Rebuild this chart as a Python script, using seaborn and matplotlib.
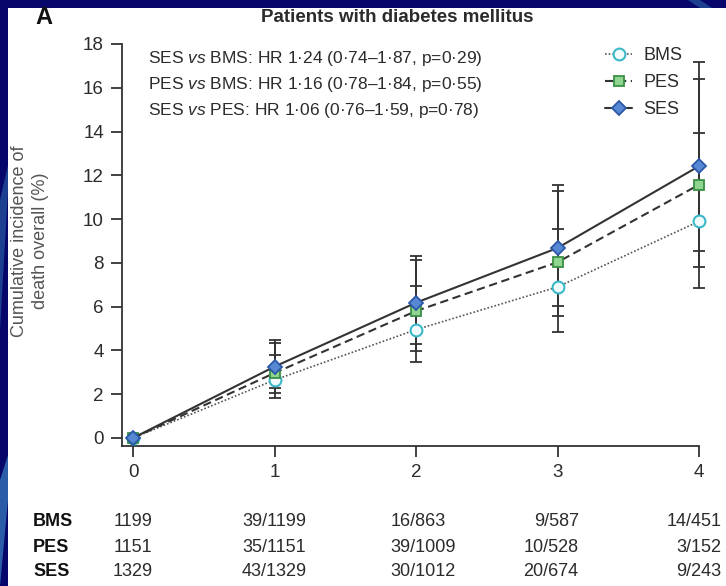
import matplotlib
matplotlib.use("Agg")
import matplotlib.pyplot as plt
from matplotlib import font_manager
from matplotlib.patches import Rectangle, Polygon
import seaborn as sns
import pandas as pd

# ---------------- data ----------------
years = [0, 1, 2, 3, 4]
groups = ["BMS", "PES", "SES"]
bms_vals = [0, 2.65, 4.95, 6.9, 9.9]
pes_vals = [0, 2.97, 5.8, 8.03, 11.57]
ses_vals = [0, 3.26, 6.18, 8.68, 12.42]
bms_lo = [0, 1.81, 3.46, 4.83, 6.83]
bms_hi = [0, 3.79, 6.96, 9.54, 13.94]
pes_lo = [0, 2.04, 3.99, 5.57, 7.82]
pes_hi = [0, 4.35, 8.13, 11.28, 16.4]
ses_lo = [0, 2.27, 4.28, 6.03, 8.54]
ses_hi = [0, 4.47, 8.31, 11.58, 17.17]
yticks = [0, 2, 4, 6, 8, 10, 12, 14, 16, 18]
hr_lines = [
    r"SES $\mathit{vs}$ BMS: HR 1·24 (0·74–1·87, p=0·29)",
    r"PES $\mathit{vs}$ BMS: HR 1·16 (0·78–1·84, p=0·55)",
    r"SES $\mathit{vs}$ PES: HR 1·06 (0·76–1·59, p=0·78)",
]
table_bms = ["1199", "39/1199", "16/863", "9/587", "14/451"]
table_pes = ["1151", "35/1151", "39/1009", "10/528", "3/152"]
table_ses = ["1329", "43/1329", "30/1012", "20/674", "9/243"]
title = "Patients with diabetes mellitus"
panel = "A"
ylabel = "Cumulative incidence of\ndeath overall (%)"

# ---------------- style ----------------
sns.set_style("white")
names = {f.name for f in font_manager.fontManager.ttflist}
FONT = "Liberation Sans Narrow" if "Liberation Sans Narrow" in names else "Liberation Sans"
plt.rcParams["font.family"] = [FONT, "DejaVu Sans"]
plt.rcParams["mathtext.fontset"] = "custom"
plt.rcParams["mathtext.rm"] = FONT
plt.rcParams["mathtext.it"] = FONT + ":italic"
FS = 13
TXT = "#2b2b2b"

W, H = 726, 586
fig = plt.figure(figsize=(W / 100, H / 100), dpi=100)
fig.patch.set_facecolor("#07076b")

def fx(px):
    return px / W

def fy(py):
    return 1 - py / H

# white panel + slide decoration (behind everything)
fig.patches.append(Rectangle((fx(8), 0), 1 - fx(8), fy(8), transform=fig.transFigure,
                             facecolor="white", edgecolor="none", zorder=-10))
fig.patches.append(Polygon([(fx(0), fy(480)), (fx(8), fy(455)), (fx(8), fy(500)), (fx(0), fy(586))],
                           closed=True, transform=fig.transFigure, facecolor="#2b5ca8",
                           edgecolor="none", zorder=-10))
fig.patches.append(Polygon([(fx(0), fy(200)), (fx(8), fy(165)), (fx(8), fy(190)), (fx(0), fy(330))],
                           closed=True, transform=fig.transFigure, facecolor="#1d3f90",
                           edgecolor="none", zorder=-10))
fig.patches.append(Polygon([(fx(688), fy(0)), (fx(700), fy(0)), (fx(712), fy(8)), (fx(700), fy(8))],
                           closed=True, transform=fig.transFigure, facecolor="#1d3f90",
                           edgecolor="none", zorder=-10))

ax = fig.add_axes([fx(122), 1 - 446 / H, 577 / W, 402 / H])
ax.set_facecolor("none")

df = pd.DataFrame({
    "year": years * 3,
    "inc": bms_vals + pes_vals + ses_vals,
    "stent": [g for g in groups for _ in years],
})

lo = {"BMS": bms_lo, "PES": pes_lo, "SES": ses_lo}
hi = {"BMS": bms_hi, "PES": pes_hi, "SES": ses_hi}
vals = {"BMS": bms_vals, "PES": pes_vals, "SES": ses_vals}

# error bars
for g in groups:
    v = vals[g][1:]
    yerr = [[a - b for a, b in zip(v, lo[g][1:])], [b - a for a, b in zip(v, hi[g][1:])]]
    ax.errorbar(years[1:], v, yerr=yerr, fmt="none", ecolor="#333333", elinewidth=1.3,
                capsize=4, capthick=1.3, zorder=2, clip_on=False)

styles = {
    "BMS": dict(linestyle=(0, (1, 1.2)), linewidth=1.2, color="#555555", marker="o",
                markersize=8.5, markerfacecolor="#f2fbfc", markeredgecolor="#3bb8c8",
                markeredgewidth=1.5),
    "PES": dict(linestyle=(0, (4, 2.2)), linewidth=1.5, color="#333333", marker="s",
                markersize=7.5, markerfacecolor="#8fd48f", markeredgecolor="#3a8f45",
                markeredgewidth=1.3),
    "SES": dict(linestyle="-", linewidth=1.5, color="#333333", marker="D",
                markersize=7.5, markerfacecolor="#5688d4", markeredgecolor="#2b58a6",
                markeredgewidth=1.3),
}
for g in groups:
    sns.lineplot(data=df[df["stent"] == g], x="year", y="inc", ax=ax, label=g,
                 zorder=3, clip_on=False, **styles[g])

ax.set_xlim(-0.078, 4)
ax.set_ylim(-0.366, 18)
ax.set_xticks(years)
ax.set_yticks(yticks)
ax.set_xlabel("")
ax.set_ylabel("")
for s in ["top", "right"]:
    ax.spines[s].set_visible(False)
for s in ["left", "bottom"]:
    ax.spines[s].set_color("#333333")
    ax.spines[s].set_linewidth(1.3)
ax.tick_params(axis="both", direction="out", length=8, width=1.3, color="#333333",
               labelsize=FS + 0.5, labelcolor=TXT, pad=5, left=True, bottom=True)

# y label as figure text
fig.text(fx(30), fy(241), ylabel, rotation=90, ha="center", va="center", fontsize=FS,
         color="#555555", linespacing=1.25, multialignment="center")

leg = ax.legend(loc="upper left", bbox_to_anchor=(fx(598), fy(40)), bbox_transform=fig.transFigure,
                frameon=False, fontsize=FS, handlelength=1.5, handletextpad=0.6,
                labelspacing=0.55, borderaxespad=0)
for t in leg.get_texts():
    t.set_color(TXT)

# title and panel letter
fig.text(fx(397), fy(18), title, ha="center", va="center", fontsize=FS + 0.5, fontweight="bold", color=TXT)
fig.text(fx(44), fy(18), panel, ha="center", va="center", fontsize=FS + 4, fontweight="bold", color="#111111")

# HR annotations
for i, line in enumerate(hr_lines):
    fig.text(fx(148), fy(58 + 26 * i), line, ha="left", va="center", fontsize=FS - 0.5, color=TXT)

# at-risk table
rows = [("BMS", table_bms), ("PES", table_pes), ("SES", table_ses)]
row_y = [522, 547, 572]
blend = matplotlib.transforms.blended_transform_factory(ax.transData, fig.transFigure)
col_ha = ["center", "center", "left", "right", "right"]
col_off = [0, 0, -0.18, 0.15, 0.16]
for (name, cells), py in zip(rows, row_y):
    fig.text(fx(33), fy(py), name, ha="left", va="center", fontsize=FS, fontweight="bold", color="#111111")
    for xi, cell in enumerate(cells):
        ax.text(years[xi] + col_off[xi], fy(py), cell, transform=blend, ha=col_ha[xi],
                va="center", fontsize=FS, color=TXT, clip_on=False)

fig.savefig("out.png", dpi=100, facecolor=fig.get_facecolor())
